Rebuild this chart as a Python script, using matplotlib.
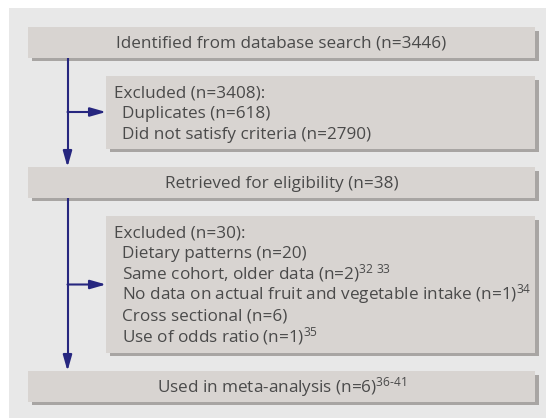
import matplotlib.pyplot as plt
from matplotlib.patches import Rectangle

plt.rcParams['font.family'] = ['Open Sans', 'DejaVu Sans']
plt.rcParams['mathtext.fontset'] = 'custom'
plt.rcParams['mathtext.rm'] = 'Open Sans'
plt.rcParams['mathtext.it'] = 'Open Sans'

# flow data
main_steps = ["Identified from database search", "Retrieved for eligibility", "Used in meta-analysis"]
main_counts = [3446, 38, 6]
main_refs = ["", "", "36-41"]

excl_counts = [3408, 30]
excl1_reasons = ["Duplicates", "Did not satisfy criteria"]
excl1_counts = [618, 2790]
excl1_refs = ["", ""]
excl2_reasons = ["Dietary patterns", "Same cohort, older data",
                 "No data on actual fruit and vegetable intake",
                 "Cross sectional", "Use of odds ratio"]
excl2_counts = [20, 2, 1, 6, 1]
excl2_refs = ["", "32\\ 33", "34", "", "35"]

# layout (pixels)
W, H = 546, 418
box_fill = '#d8d4d1'
shadow = '#a8a5a3'
line_col = '#26267f'
txt_col = '#4a4a4a'
fs = 12.3
step = 20.9

fig = plt.figure(figsize=(W / 100, H / 100), dpi=100)
ax = fig.add_axes([0, 0, 1, 1])
ax.set_xlim(0, W)
ax.set_ylim(H, 0)
ax.axis('off')

ax.add_patch(Rectangle((9, 8), W - 9, H - 8, facecolor='#e8e8e8', edgecolor='none'))


def label(text, n, ref):
    s = f"{text} (n={n})"
    if ref:
        if '-' in ref:
            s += "$^{\\text{" + ref + "}}$"
        else:
            s += "$^{" + ref + "}$"
    return s


def box(x0, y0, x1, y1):
    ax.add_patch(Rectangle((x0 + 3.5, y0 + 3.5), x1 - x0, y1 - y0, facecolor=shadow, edgecolor='none'))
    ax.add_patch(Rectangle((x0, y0), x1 - x0, y1 - y0, facecolor=box_fill, edgecolor='none'))


bx0, bx1 = 28, 535
main_y = [(27, 57.5), (167, 197.5), (371, 401.5)]
for (y0, y1), t, n, r in zip(main_y, main_steps, main_counts, main_refs):
    box(bx0, y0, bx1, y1)
    ax.text((bx0 + bx1) / 2, y0 + 21, label(t, n, r), ha='center', va='baseline',
            fontsize=fs, color=txt_col)

ex0 = 106
excl_y = [(76, 148.5), (216, 352.5)]
reasons = [(excl1_reasons, excl1_counts, excl1_refs), (excl2_reasons, excl2_counts, excl2_refs)]
for (y0, y1), n, (rs, cs, refs) in zip(excl_y, excl_counts, reasons):
    box(ex0, y0, bx1, y1)
    ax.text(113.5, y0 + 21, f"Excluded (n={n}):", ha='left', va='baseline', fontsize=fs, color=txt_col)
    for i, (rr, c, ref) in enumerate(zip(rs, cs, refs)):
        ax.text(121.5, y0 + 21 + step * (i + 1), label(rr, c, ref), ha='left', va='baseline',
                fontsize=fs, color=txt_col)

# arrows
lx = 67.5
head = dict(arrowstyle='-|>,head_length=0.95,head_width=0.27', color=line_col, lw=1.5,
            shrinkA=0, shrinkB=0, mutation_scale=10)
for (ya, yb), ym in zip([(57.5, 167), (197.5, 371)], [112, 284.5]):
    ax.plot([lx, lx], [ya, yb - 10], color=line_col, lw=1.5, solid_capstyle='butt')
    ax.annotate('', xy=(lx, yb), xytext=(lx, yb - 12), arrowprops=head)
    ax.annotate('', xy=(ex0, ym), xytext=(lx, ym), arrowprops=head)

fig.savefig('out.png', dpi=100)
